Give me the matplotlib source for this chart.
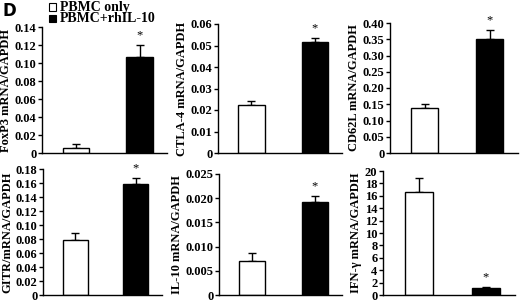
import matplotlib
matplotlib.use("Agg")
import matplotlib.pyplot as plt
from matplotlib.patches import Rectangle

plt.rcParams['font.family'] = ['Liberation Serif', 'DejaVu Serif']
plt.rcParams['font.weight'] = 'bold'

groups = ["PBMC only", "PBMC+rhIL-10"]
labels = ["FoxP3 mRNA/GAPDH", "CTLA-4 mRNA/GAPDH", "CD62L mRNA/GAPDH",
          "GITR/mRNA/GAPDH", "IL-10 mRNA/GAPDH", "IFN-γ mRNA/GAPDH"]
means = [[0.006, 0.107], [0.0225, 0.0515], [0.137, 0.350],
         [0.078, 0.158], [0.0070, 0.0192], [16.6, 1.1]]
errs = [[0.004, 0.013], [0.0015, 0.002], [0.013, 0.027],
        [0.010, 0.009], [0.0016, 0.0012], [2.2, 0.15]]
yticks = [[0, 0.02, 0.04, 0.06, 0.08, 0.10, 0.12, 0.14],
          [0, 0.01, 0.02, 0.03, 0.04, 0.05, 0.06],
          [0, 0.05, 0.10, 0.15, 0.20, 0.25, 0.30, 0.35, 0.40],
          [0, 0.02, 0.04, 0.06, 0.08, 0.10, 0.12, 0.14, 0.16, 0.18],
          [0, 0.005, 0.010, 0.015, 0.020, 0.025],
          [0, 2, 4, 6, 8, 10, 12, 14, 16, 18, 20]]
ytlabels = [["0", "0.02", "0.04", "0.06", "0.08", "0.10", "0.12", "0.14"],
            ["0", "0.01", "0.02", "0.03", "0.04", "0.05", "0.06"],
            ["0", "0.05", "0.10", "0.15", "0.20", "0.25", "0.30", "0.35", "0.40"],
            ["0", "0.02", "0.04", "0.06", "0.08", "0.10", "0.12", "0.14", "0.16", "0.18"],
            ["0", "0.005", "0.010", "0.015", "0.020", "0.025"],
            ["0", "2", "4", "6", "8", "10", "12", "14", "16", "18", "20"]]

W, H = 520, 301
fig = plt.figure(figsize=(W / 100, H / 100), dpi=100)

# pixel rects: left, right, top, bottom
rects = [(42, 167, 27, 153), (218, 342, 24, 153), (390, 518, 23, 153),
         (43, 162, 169, 295), (219, 342, 174, 295), (383, 515, 171, 295)]

for i in range(6):
    l, r, t, b = rects[i]
    ax = fig.add_axes([l / W, 1 - b / H, (r - l) / W, (b - t) / H])
    x = [0.27, 0.78]
    colors = ["white", "black"]
    ax.bar(x, means[i], width=0.21, color=colors, edgecolor="black", linewidth=1.0, zorder=2)
    ax.errorbar(x, means[i], yerr=[[0, 0], errs[i]], fmt="none", ecolor="black",
                elinewidth=1.0, capsize=3, capthick=1.0, zorder=1)
    ymax = yticks[i][-1]
    ax.set_xlim(0, 1)
    ax.set_ylim(0, ymax)
    ax.set_yticks(yticks[i])
    ax.set_yticklabels(ytlabels[i], fontsize=9, fontweight="bold")
    ax.set_xticks([])
    ax.spines["top"].set_visible(False)
    ax.spines["right"].set_visible(False)
    ax.spines["left"].set_linewidth(1.0)
    ax.spines["bottom"].set_linewidth(1.0)
    ax.tick_params(axis="y", direction="out", length=3, width=1, pad=1)
    ax.set_ylabel(labels[i], fontsize=9, fontweight="bold", labelpad=2)
    top = means[i][1] + errs[i][1]
    ax.text(x[1], top + ymax * 0.03, "*", ha="center", va="bottom", fontsize=9,
            fontweight="normal")

# panel letter
fig.text(2 / W, 1 - 2 / H, "D", fontsize=12, fontweight="bold", family="DejaVu Sans",
         ha="left", va="top")
# legend
for k, (g, c) in enumerate(zip(groups, ["white", "black"])):
    yc = 1 - (7 + k * 11.5) / H
    fig.patches.append(Rectangle((49 / W, yc - 3.5 / H), 7 / W, 7 / H,
                                 transform=fig.transFigure, facecolor=c,
                                 edgecolor="black", linewidth=0.8))
    fig.text(60 / W, yc, g, fontsize=10, fontweight="bold", ha="left", va="center")

fig.savefig("out.png", dpi=100)
